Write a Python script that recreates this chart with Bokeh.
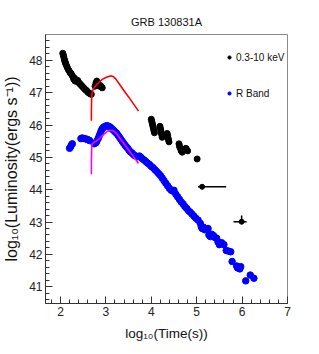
from bokeh.plotting import figure
from bokeh.models import Range1d, FixedTicker, Legend, LegendItem
from bokeh.embed import file_html
from bokeh.resources import INLINE

# ---------------- data ----------------
title_text = "GRB 130831A"
x_label = "log\u2081\u2080(Time(s))"
y_label = "log\u2081\u2080(Luminosity(ergs s\u207b\u00b9))"

# X-ray (0.3-10 keV) luminosity, log10 time vs log10 L
xrt_t = [2.05, 2.06, 2.07, 2.08, 2.09, 2.10, 2.11, 2.12, 2.14, 2.15, 2.17, 2.19,
         2.21, 2.23, 2.25, 2.27, 2.29, 2.31, 2.32, 2.33, 2.36, 2.38, 2.40, 2.42,
         2.44, 2.46, 2.48, 2.50, 2.52, 2.54, 2.56, 2.58, 2.60, 2.62, 2.64, 2.66,
         2.68, 2.76, 2.78, 2.80, 2.82, 2.84, 2.86, 2.88, 2.90, 2.92,
         4.00, 4.01, 4.02, 4.03, 4.04, 4.05, 4.06, 4.07,
         4.19, 4.20, 4.21, 4.22, 4.23, 4.24,
         4.35, 4.36, 4.37, 4.38, 4.39,
         4.61, 4.62, 4.63, 4.65, 4.66, 4.68, 4.76, 4.78, 4.80, 5.01]
xrt_l = [48.22, 48.17, 48.12, 48.06, 48.00, 47.96, 47.92, 47.88, 47.82, 47.78, 47.72, 47.68,
         47.62, 47.60, 47.55, 47.50, 47.42, 47.45, 47.36, 47.40, 47.35, 47.38, 47.32, 47.28,
         47.26, 47.22, 47.20, 47.16, 47.14, 47.10, 47.08, 47.06, 47.02, 47.00, 46.98, 46.96,
         46.95, 47.20, 47.30, 47.36, 47.30, 47.24, 47.20, 47.22, 47.18, 47.15,
         46.18, 46.12, 46.06, 46.00, 45.94, 45.88, 45.82, 45.76,
         45.96, 45.90, 45.84, 45.76, 45.70, 45.62,
         45.74, 45.68, 45.60, 45.54, 45.48,
         45.42, 45.36, 45.30, 45.26, 45.20, 45.16, 45.28, 45.24, 45.20, 44.95]

# X-ray late points with error bars
xerr_t = [5.12, 5.99]
xerr_l = [44.09, 43.01]
xerr_t_lo = [5.03, 5.81]
xerr_t_hi = [5.65, 6.10]
xerr_l_lo = [44.05, 42.93]
xerr_l_hi = [44.13, 43.20]

# R band luminosity
rband_t = [2.20, 2.22, 2.24, 2.26,
           2.45, 2.48, 2.52, 2.56, 2.60, 2.64,
           2.74, 2.78, 2.80, 2.83, 2.85, 2.87, 2.89, 2.91, 2.93, 2.95, 2.97, 3.00,
           3.03, 3.06, 3.09, 3.12, 3.15, 3.18, 3.21, 3.24, 3.27, 3.30, 3.33, 3.36,
           3.39, 3.42, 3.45, 3.48, 3.51, 3.54, 3.57, 3.60, 3.63, 3.66, 3.70, 3.74,
           3.77, 3.80, 3.84, 3.88, 3.92, 3.96, 4.00, 4.04, 4.08, 4.12, 4.16, 4.20,
           4.24, 4.28, 4.32, 4.36, 4.40, 4.44, 4.47, 4.50, 4.54, 4.58, 4.62, 4.66,
           4.70, 4.74, 4.78, 4.82, 4.86, 4.90, 4.94, 4.98, 5.03, 5.08, 5.10, 5.12,
           5.15, 5.18, 5.25, 5.27, 5.30, 5.33, 5.37, 5.40, 5.44, 5.47, 5.50, 5.55,
           5.60, 5.65, 5.70, 5.75, 5.78, 5.88, 5.90, 5.93, 5.95, 5.97, 6.08, 6.18, 6.26]
rband_l = [45.28, 45.32, 45.38, 45.42,
           45.58, 45.60, 45.58, 45.57, 45.55, 45.52,
           45.42, 45.45, 45.50, 45.58, 45.65, 45.72, 45.80, 45.86, 45.90, 45.93, 45.95, 45.97,
           45.98, 45.96, 45.94, 45.90, 45.86, 45.82, 45.78, 45.74, 45.68, 45.62, 45.56, 45.50,
           45.44, 45.38, 45.33, 45.28, 45.22, 45.17, 45.14, 45.10, 45.06, 45.04, 45.02, 45.04,
           45.00, 44.96, 44.92, 44.87, 44.82, 44.78, 44.72, 44.68, 44.62, 44.56, 44.50, 44.44,
           44.36, 44.28, 44.20, 44.12, 44.04, 43.98, 43.96, 43.98, 43.86, 43.78, 43.70, 43.62,
           43.56, 43.48, 43.42, 43.35, 43.30, 43.24, 43.18, 43.12, 43.06, 42.96, 42.85, 42.80,
           42.84, 42.76, 42.80, 42.60, 42.55, 42.62, 42.58, 42.52, 42.50, 42.38, 42.30, 42.36,
           42.30, 42.12, 42.10, 42.08, 41.78, 41.64, 41.58, 41.60, 41.55, 41.62, 41.18, 41.36, 41.26]

# model curves
red_t = [2.680, 2.682, 2.685, 2.69, 2.70, 2.72, 2.75, 2.80, 2.86, 2.93, 3.00, 3.06,
         3.12, 3.17, 3.22, 3.30, 3.40, 3.50, 3.60, 3.72]
red_l = [46.13, 46.50, 46.75, 46.92, 47.02, 47.10, 47.17, 47.25, 47.34, 47.42, 47.47, 47.50,
         47.52, 47.49, 47.42, 47.26, 47.06, 46.87, 46.67, 46.43]
mag_t = [2.680, 2.682, 2.685, 2.69, 2.70, 2.73, 2.78, 2.84, 2.90, 2.96, 3.02, 3.08,
         3.13, 3.18, 3.24, 3.32, 3.42, 3.52, 3.62, 3.72]
mag_l = [44.48, 44.90, 45.15, 45.35, 45.42, 45.46, 45.50, 45.56, 45.64, 45.72, 45.79, 45.83,
         45.84, 45.81, 45.72, 45.57, 45.38, 45.19, 45.00, 44.81]

x_ticks = [2, 3, 4, 5, 6, 7]
y_ticks = [41, 42, 43, 44, 45, 46, 47, 48]
legend_labels = ["0.3-10 keV", "R Band"]

# ---------------- figure ----------------
FONT = "Liberation Sans, Arial, Helvetica, sans-serif"

W, H = 318, 353
p = figure(width=W, height=H, output_backend="svg", toolbar_location=None,
           x_range=Range1d(1.67, 7.0), y_range=Range1d(40.48, 48.8),
           min_border_left=44, min_border_right=W - 44 - 243,
           min_border_top=34, min_border_bottom=H - 34 - 269)
p.background_fill_color = "white"
p.border_fill_color = "white"
p.outline_line_color = "#8a8a8a"
p.outline_line_width = 1
p.xgrid.visible = False
p.ygrid.visible = False

p.title.text = title_text
p.title.align = "center"
p.title.text_font = FONT
p.title.text_font_size = "11px"
p.title.text_font_style = "normal"
p.title.text_color = "#111111"
p.title.standoff = 13
p.title.offset = -6

x_minor = [1.8 + 0.2 * i for i in range(27)]
y_minor = [40.6 + 0.2 * i for i in range(41)]
p.xaxis.ticker = FixedTicker(ticks=x_ticks, minor_ticks=x_minor)
p.yaxis.ticker = FixedTicker(ticks=y_ticks, minor_ticks=y_minor)

for ax in (p.xaxis[0], p.yaxis[0]):
    ax.axis_line_color = "#333333"
    ax.axis_line_width = 1
    ax.major_tick_line_color = "#333333"
    ax.minor_tick_line_color = "#333333"
    ax.major_tick_in = 7
    ax.major_tick_out = 0
    ax.minor_tick_in = 4
    ax.minor_tick_out = 0
    ax.major_label_text_font = FONT
    ax.major_label_text_font_size = "12px"
    ax.major_label_text_color = "#222222"
    ax.major_label_standoff = 3
    ax.axis_label_text_font = FONT
    ax.axis_label_text_font_style = "normal"
    ax.axis_label_text_color = "#111111"
p.yaxis.major_label_orientation = "horizontal"

p.xaxis.axis_label = x_label
p.xaxis.axis_label_text_font_size = "13.5px"
p.xaxis.axis_label_standoff = 7
p.yaxis.axis_label = y_label
p.yaxis.axis_label_text_font_size = "16px"
p.yaxis.axis_label_standoff = 6

# glyphs
xr = p.scatter(xrt_t, xrt_l, size=6, color="black")
p.segment(x0=xerr_t_lo, y0=xerr_l, x1=xerr_t_hi, y1=xerr_l, line_color="black", line_width=1.5)
p.segment(x0=xerr_t, y0=xerr_l_lo, x1=xerr_t, y1=xerr_l_hi, line_color="black", line_width=1.5)
p.scatter(xerr_t, xerr_l, size=5, color="black")
rb = p.scatter(rband_t, rband_l, size=6.5, color="#0000ff")
p.line(red_t, red_l, line_color="#ff0000", line_width=1.6)
p.line(mag_t, mag_l, line_color="#ff00ff", line_width=1.6)

leg = Legend(items=[LegendItem(label=legend_labels[0], renderers=[xr], index=0),
                    LegendItem(label=legend_labels[1], renderers=[rb], index=0)],
             location=(180, 204), orientation="vertical",
             border_line_alpha=0, background_fill_alpha=0,
             padding=0, margin=0, spacing=24, glyph_width=8, glyph_height=12,
             label_height=12, label_standoff=3,
             label_text_font=FONT, label_text_font_size="10px",
             label_text_color="#111111")
p.add_layout(leg, "center")

open("out.html", "w").write(file_html(p, INLINE))
